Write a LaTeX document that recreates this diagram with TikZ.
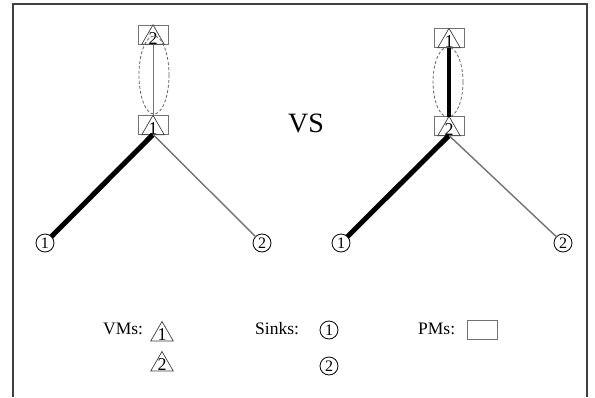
\documentclass[tikz,border=0pt]{standalone}
\usepackage{fontspec}
\setmainfont{Liberation Serif}
\usetikzlibrary{shapes.geometric}

\tikzset{
  pmbox/.style={draw=black!55, line width=0.9pt, rectangle, minimum width=30pt, minimum height=19pt, inner sep=0pt, outer sep=0pt},
  vmtri/.style={draw=black!75, line width=0.7pt, regular polygon, regular polygon sides=3, minimum size=26pt, inner sep=0pt, outer sep=0pt,
    label={[inner sep=0pt, font=\fontsize{18}{18}\selectfont, yshift=-0.5pt]center:#1}},
  sink/.style={draw=black, line width=0.8pt, circle, minimum size=18pt, inner sep=0pt, outer sep=0pt, font=\fontsize{16}{16}\selectfont},
  heavy/.style={line width=5pt, black},
  light/.style={line width=1.4pt, black!55},
  group/.style={draw=black!60, dashed, dash pattern=on 3pt off 2pt, line width=0.8pt},
  legendtxt/.style={anchor=base west, inner sep=0pt, font=\fontsize{17.5}{17.5}\selectfont},
  frame/.style={draw=black!75, line width=1.3pt}
}

\begin{document}
\begin{tikzpicture}[x=1pt, y=-1pt]
  \useasboundingbox (0,0) rectangle (595,397);
  \fill[white] (0,0) rectangle (595,397);

  % outer frame (open at the bottom)
  \draw[frame] (13,397) -- (13,4) -- (587,4) -- (587,397);

  % ---------- left placement ----------
  \node[pmbox] (LT) at (153,34.5) {};
  \node[pmbox] (LB) at (153,125) {};
  \node[vmtri=2, anchor=south] (LTv) at ([yshift=-0.3pt]LT.south) {};
  \node[vmtri=1, anchor=south] (LBv) at ([yshift=-0.3pt]LB.south) {};
  \draw[group] (154,75) ellipse [x radius=15, y radius=39];
  \draw[light, line width=1pt] (LT.south) -- (LB.north);
  \node[sink] (LS1) at (45,243) {1};
  \node[sink] (LS2) at (262,243) {2};
  \draw[heavy] (LB.south) -- (LS1);
  \draw[light] (LB.south) -- (LS2);

  % ---------- right placement ----------
  \node[pmbox] (RT) at (449,38) {};
  \node[pmbox] (RB) at (449,126) {};
  \node[vmtri=1, anchor=south] (RTv) at ([yshift=-0.3pt]RT.south) {};
  \node[vmtri=2, anchor=south] (RBv) at ([yshift=-0.3pt]RB.south) {};
  \draw[group] (448,82) ellipse [x radius=15, y radius=35];
  \draw[line width=3.5pt, black] (RT.south) -- (RB.north);
  \node[sink] (RS1) at (341,243) {1};
  \node[sink] (RS2) at (563,243) {2};
  \draw[heavy] (RB.south) -- (RS1);
  \draw[light] (RB.south) -- (RS2);

  % comparison mark
  \node[anchor=base, inner sep=0pt, font=\fontsize{28}{28}\selectfont] (vs) at (306,132) {VS};

  % ---------- legend ----------
  \node[legendtxt] (vmlab) at (103,334) {VMs:};
  \node[vmtri=1] (k1) at (162,334.5) {};
  \node[vmtri=2] (k2) at (162,364.5) {};

  \node[legendtxt] (sklab) at (255,334) {Sinks:};
  \node[sink] (s1) at (329,330) {1};
  \node[sink] (s2) at (329,366) {2};

  \node[legendtxt] (pmlab) at (418,334) {PMs:};
  \node[pmbox] (pmkey) at (482,329.5) {};
\end{tikzpicture}
\end{document}
